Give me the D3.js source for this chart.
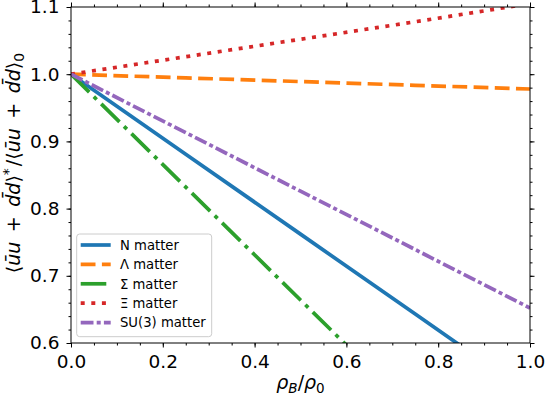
<!DOCTYPE html>
<html>
<head>
<meta charset="utf-8">
<script src="https://cdn.jsdelivr.net/npm/d3@7"></script>
<style>
  body { margin: 0; background: #fff; }
  text { font-family: "DejaVu Sans", sans-serif; }
</style>
</head>
<body>
<svg id="chart" width="546" height="397"></svg>
<script>
// rho_B / rho_0 grid
var density = [0, 0.25, 0.5, 0.75, 1.0];

// condensate ratio for each kind of matter
var nMatter      = [1.000, 0.881, 0.762, 0.643, 0.524];
var lambdaMatter = [1.000, 0.9945, 0.989, 0.9835, 0.978];
var sigmaMatter  = [1.000, 0.832, 0.664, 0.496, 0.328];
var xiMatter     = [1.000, 1.026, 1.052, 1.078, 1.105];
var su3Matter    = [1.000, 0.913, 0.826, 0.739, 0.652];

var seriesNames = ['N matter', '\u039b matter', '\u03a3 matter', '\u039e matter', 'SU(3) matter'];
var xTicks = [0, 0.2, 0.4, 0.6, 0.8, 1.0];
var yTicks = [0.6, 0.7, 0.8, 0.9, 1.0, 1.1];

(function() {
  var svg = d3.select('#chart');
  var pL = 71, pR = 530, pT = 7, pB = 343;

  var x = d3.scaleLinear().domain([0, 1]).range([pL, pR]);
  var y = d3.scaleLinear().domain([0.6, 1.1]).range([pB, pT]);

  var series = [
    { name: seriesNames[0], values: nMatter,      color: '#1f77b4', dash: null },
    { name: seriesNames[1], values: lambdaMatter, color: '#ff7f0e', dash: '14.8,6.4' },
    { name: seriesNames[2], values: sigmaMatter,  color: '#2ca02c', dash: '25.6,6.4,4,6.4' },
    { name: seriesNames[3], values: xiMatter,     color: '#d62728', dash: '4,6.6' },
    { name: seriesNames[4], values: su3Matter,    color: '#9467bd', dash: '12.8,3.2,4,3.2' }
  ];

  svg.append('clipPath').attr('id', 'plotclip')
    .append('rect')
    .attr('x', pL).attr('y', pT)
    .attr('width', pR - pL).attr('height', pB - pT);

  var line = d3.line()
    .x(function(d) { return x(d[0]); })
    .y(function(d) { return y(d[1]); });

  svg.append('g').attr('clip-path', 'url(#plotclip)')
    .selectAll('path')
    .data(series).enter()
    .append('path')
    .attr('d', function(s) { return line(density.map(function(r, i) { return [r, s.values[i]]; })); })
    .attr('fill', 'none')
    .attr('stroke', function(s) { return s.color; })
    .attr('stroke-width', 3.7)
    .attr('stroke-dasharray', function(s) { return s.dash; });

  // axes: major + minor ticks on all four sides, pointing out
  var fmt = d3.format('.1f');
  var xMinor = d3.range(0, 1.0001, 0.05);
  var yMinor = d3.range(0.6, 1.1001, 0.02);

  function styleAxis(g) {
    g.select('.domain').remove();
    g.selectAll('line').attr('stroke', '#000').attr('stroke-width', 1);
    g.selectAll('text').attr('font-size', '18.5px').attr('fill', '#000')
      .style('font-family', '"DejaVu Sans", sans-serif');
  }

  svg.append('g').attr('transform', 'translate(0,' + pB + ')')
    .call(d3.axisBottom(x).tickValues(xMinor).tickFormat('').tickSize(2.5)).call(styleAxis);
  svg.append('g').attr('transform', 'translate(0,' + pB + ')')
    .call(d3.axisBottom(x).tickValues(xTicks).tickFormat(fmt).tickSize(4.5).tickPadding(7)).call(styleAxis);
  svg.append('g').attr('transform', 'translate(0,' + pT + ')')
    .call(d3.axisTop(x).tickValues(xMinor).tickFormat('').tickSize(2.5)).call(styleAxis);
  svg.append('g').attr('transform', 'translate(0,' + pT + ')')
    .call(d3.axisTop(x).tickValues(xTicks).tickFormat('').tickSize(4.5)).call(styleAxis);

  svg.append('g').attr('transform', 'translate(' + pL + ',0)')
    .call(d3.axisLeft(y).tickValues(yMinor).tickFormat('').tickSize(2.5)).call(styleAxis);
  svg.append('g').attr('transform', 'translate(' + pL + ',0)')
    .call(d3.axisLeft(y).tickValues(yTicks).tickFormat(fmt).tickSize(4.5).tickPadding(7)).call(styleAxis);
  svg.append('g').attr('transform', 'translate(' + pR + ',0)')
    .call(d3.axisRight(y).tickValues(yMinor).tickFormat('').tickSize(2.5)).call(styleAxis);
  svg.append('g').attr('transform', 'translate(' + pR + ',0)')
    .call(d3.axisRight(y).tickValues(yTicks).tickFormat('').tickSize(4.5)).call(styleAxis);

  svg.append('rect')
    .attr('x', pL).attr('y', pT)
    .attr('width', pR - pL).attr('height', pB - pT)
    .attr('fill', 'none').attr('stroke', '#000').attr('stroke-width', 1);

  // x label: rho_B / rho_0
  var xl = svg.append('text')
    .attr('x', (pL + pR) / 2).attr('y', 389)
    .attr('text-anchor', 'middle').attr('font-size', '19px');
  xl.append('tspan').attr('font-style', 'italic').text('\u03c1');
  xl.append('tspan').attr('font-style', 'italic').attr('font-size', '13.5px').attr('dy', 3.5).text('B');
  xl.append('tspan').attr('dy', -3.5).text('/');
  xl.append('tspan').attr('font-style', 'italic').text('\u03c1');
  xl.append('tspan').attr('font-size', '13.5px').attr('dy', 3.5).text('0');

  // y label: <ubar u + dbar d>* / <ubar u + dbar d>_0
  var yl = svg.append('text')
    .attr('transform', 'translate(20,163) rotate(-90)')
    .attr('text-anchor', 'middle').attr('font-size', '19px');
  function bracket(t) {
    t.append('tspan').text('\u27e8');
    t.append('tspan').attr('font-style', 'italic').text('u\u0304u');
    t.append('tspan').text('\u2002+\u2002');
    t.append('tspan').attr('font-style', 'italic').text('d\u0304d');
    t.append('tspan').text('\u27e9');
  }
  bracket(yl);
  yl.append('tspan').attr('font-size', '14px').attr('dy', -7).text('*');
  yl.append('tspan').attr('dy', 7).attr('dx', 2).text('/');
  bracket(yl);
  yl.append('tspan').attr('font-size', '14px').attr('dy', 3.5).text('0');

  // legend
  var lg = svg.append('g');
  lg.append('rect')
    .attr('x', 76.7).attr('y', 234).attr('width', 135).attr('height', 102.7)
    .attr('rx', 3).attr('fill', '#fff').attr('fill-opacity', 0.8)
    .attr('stroke', '#cccccc').attr('stroke-width', 1);

  var rows = lg.selectAll('g.row').data(series).enter().append('g')
    .attr('class', 'row')
    .attr('transform', function(d, i) { return 'translate(0,' + (245 + i * 19.4) + ')'; });
  rows.append('line')
    .attr('x1', 80.7).attr('x2', 110.7)
    .attr('stroke', function(s) { return s.color; })
    .attr('stroke-width', 3.7)
    .attr('stroke-dasharray', function(s) { return s.dash; });
  rows.append('text')
    .attr('x', 120).attr('dy', '0.36em')
    .attr('font-size', '13.2px').attr('fill', '#000')
    .text(function(s) { return s.name; });
})();
</script>
</body>
</html>
